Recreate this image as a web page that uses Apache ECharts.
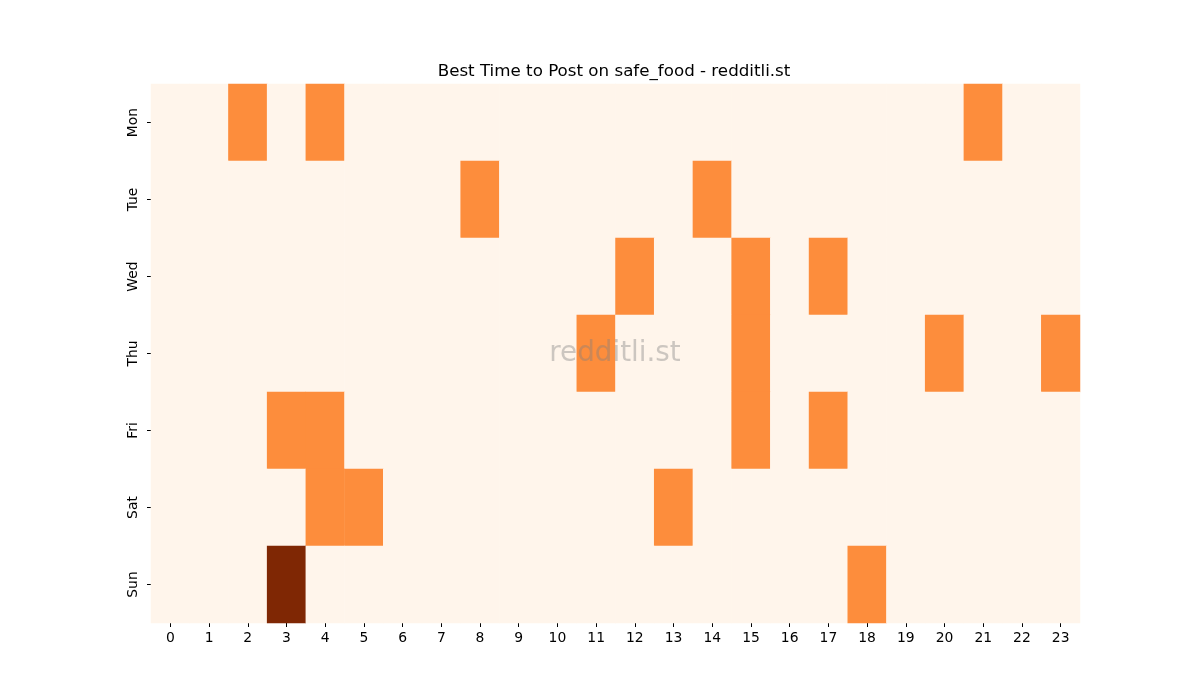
<!DOCTYPE html>
<html>
<head>
<meta charset="utf-8">
<script src="https://cdn.jsdelivr.net/npm/echarts@6/dist/echarts.min.js"></script>
<style>
html, body { margin: 0; padding: 0; background: #fff; }
#chart { width: 1200px; height: 700px; }
</style>
</head>
<body>
<div id="chart"></div>
<script>
// hours and days
var hours = ['0','1','2','3','4','5','6','7','8','9','10','11','12','13','14','15','16','17','18','19','20','21','22','23'];
var days = ['Mon','Tue','Wed','Thu','Fri','Sat','Sun'];

// post counts per hour, one row per day
var mon = [0,0,1,0,1,0,0,0,0,0,0,0,0,0,0,0,0,0,0,0,0,1,0,0];
var tue = [0,0,0,0,0,0,0,0,1,0,0,0,0,0,1,0,0,0,0,0,0,0,0,0];
var wed = [0,0,0,0,0,0,0,0,0,0,0,0,1,0,0,1,0,1,0,0,0,0,0,0];
var thu = [0,0,0,0,0,0,0,0,0,0,0,1,0,0,0,1,0,0,0,0,1,0,0,1];
var fri = [0,0,0,1,1,0,0,0,0,0,0,0,0,0,0,1,0,1,0,0,0,0,0,0];
var sat = [0,0,0,0,1,1,0,0,0,0,0,0,0,1,0,0,0,0,0,0,0,0,0,0];
var sun = [0,0,0,2,0,0,0,0,0,0,0,0,0,0,0,0,0,0,1,0,0,0,0,0];

var rows = [mon, tue, wed, thu, fri, sat, sun];
var data = [];
rows.forEach(function(r, d){
	r.forEach(function(v, h){
		data.push([h, d, v]);
	});
});

var chart = echarts.init(document.getElementById('chart'));

var option = {
	backgroundColor: '#ffffff',
	animation: false,
	title: {
		text: 'Best Time to Post on safe_food - redditli.st',
		left: 609,
		top: 58,
		textAlign: 'center',
		textStyle: {
			fontFamily: 'DejaVu Sans',
			fontSize: 16.7,
			fontWeight: 'normal',
			color: '#000'
		}
	},
	grid: {
		left: 151,
		right: 120,
		top: 84,
		bottom: 77
	},
	xAxis: {
		type: 'category',
		data: hours,
		axisLine: { show: false },
		axisTick: { show: true, alignWithLabel: true, length: 4, lineStyle: { color: '#000' } },
		axisLabel: { fontFamily: 'DejaVu Sans', fontSize: 13.9, color: '#000', margin: 8 },
		splitLine: { show: false }
	},
	yAxis: {
		type: 'category',
		data: days,
		inverse: true,
		axisLine: { show: false },
		axisTick: { show: true, alignWithLabel: true, length: 4, lineStyle: { color: '#000' } },
		axisLabel: { fontFamily: 'DejaVu Sans', fontSize: 13.9, color: '#000', rotate: 90, margin: 11 },
		splitLine: { show: false }
	},
	visualMap: {
		show: false,
		type: 'piecewise',
		dimension: 2,
		pieces: [
			{ value: 0, color: '#fff5eb' },
			{ value: 1, color: '#fd8d3c' },
			{ value: 2, color: '#7f2704' }
		]
	},
	graphic: [{
		type: 'text',
		x: 615,
		y: 354,
		z: 100,
		style: {
			text: 'redditli.st',
			textAlign: 'center',
			textVerticalAlign: 'middle',
			fontFamily: 'DejaVu Sans',
			fontSize: 27.8,
			fill: 'rgba(128,128,128,0.4)'
		}
	}],
	series: [{
		type: 'heatmap',
		data: data,
		itemStyle: { borderWidth: 0 },
		emphasis: { disabled: true }
	}]
};

chart.setOption(option);
</script>
</body>
</html>
